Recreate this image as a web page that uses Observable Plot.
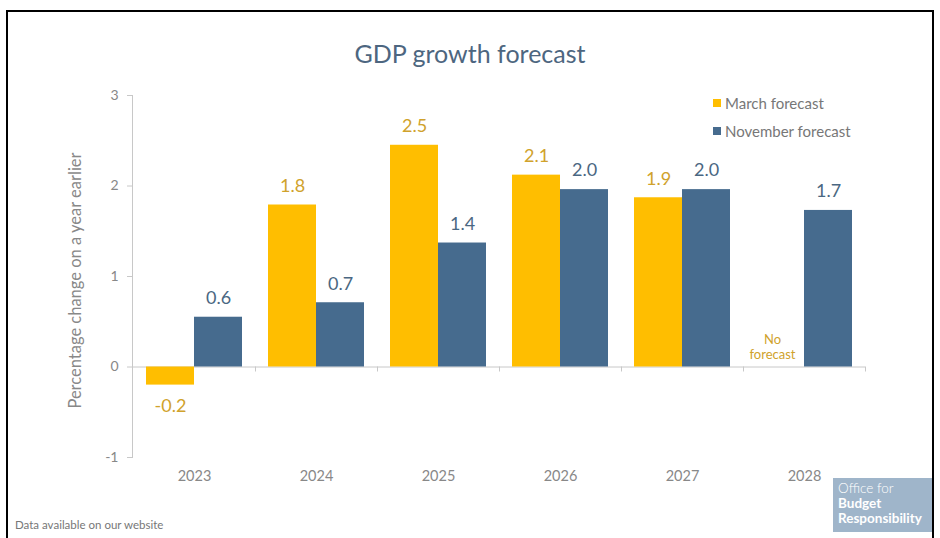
<!DOCTYPE html>
<html>
<head>
<meta charset="utf-8">
<script src="https://cdn.jsdelivr.net/npm/d3@7"></script>
<script src="https://cdn.jsdelivr.net/npm/@observablehq/plot@0.6"></script>
<style>
  html, body { margin: 0; padding: 0; background: #fff; }
  body { width: 940px; height: 538px; position: relative; overflow: hidden; font-family: Lato, "Open Sans", sans-serif; }
  #border { position: absolute; left: 6px; top: 10px; width: 924px; height: 540px; border: 2px solid #000; border-bottom: none; }
  #title { position: absolute; top: 38px; left: 0; width: 940px; text-align: center; font-size: 25px; color: #4d6680; }
  #chart { position: absolute; left: 0; top: 80px; }
  .leg { position: absolute; left: 713px; font-size: 15px; color: #777; display: flex; align-items: center; }
  .leg span.sw { width: 8px; height: 8px; display: inline-block; margin-right: 4px; }
  #footer { position: absolute; left: 15px; top: 518px; font-size: 11.5px; color: #777; }
  #logo { position: absolute; left: 833px; top: 478px; width: 99px; height: 54px; background: #9fb5ca; color: #fff; box-sizing: border-box; padding: 3px 0 0 5px; font-size: 13.5px; line-height: 15px; }
  #logo b { font-weight: 700; }
</style>
</head>
<body>
<div id="border"></div>
<div id="title">GDP growth forecast</div>
<div id="chart"></div>
<div class="leg" style="top:94px"><span class="sw" style="background:#ffbe00"></span>March forecast</div>
<div class="leg" style="top:122px"><span class="sw" style="background:#466b8e"></span>November forecast</div>
<div id="footer">Data available on our website</div>
<div id="logo"><span style="font-weight:300">Office for</span><br><b>Budget</b><br><b>Responsibility</b></div>
<script>
const years = ["2023", "2024", "2025", "2026", "2027", "2028"];
const march = [-0.2, 1.79, 2.45, 2.12, 1.87, null];
const november = [0.55, 0.71, 1.37, 1.96, 1.96, 1.73];
const marchLabels = ["-0.2", "1.8", "2.5", "2.1", "1.9", null];
const novemberLabels = ["0.6", "0.7", "1.4", "2.0", "2.0", "1.7"];
const yTicks = [-1, 0, 1, 2, 3];
const yLabel = "Percentage change on a year earlier";
const noForecast = [{year: "2028", text: "No\nforecast"}];

const marchRows = years.map((year, i) => ({year, value: march[i], label: marchLabels[i]})).filter(d => d.value != null);
const novRows = years.map((year, i) => ({year, value: november[i], label: novemberLabels[i]}));

const YELLOW = "#ffbe00", BLUE = "#466b8e";
const YTEXT = "#d0a22c", BTEXT = "#4a6782";

const chart = Plot.plot({
  width: 940,
  height: 420,
  marginTop: 15,
  marginBottom: 43,
  marginLeft: 133,
  marginRight: 75,
  style: {fontFamily: "Lato, 'Open Sans', sans-serif", background: "transparent"},
  x: {domain: years, padding: 0},
  y: {domain: [-1, 3]},
  marks: [
    Plot.frame({anchor: "left", stroke: "#c8c8c8", dx: -1}),
    Plot.ruleY([0], {stroke: "#c8c8c8", insetLeft: -1}),
    Plot.ruleX(years, {x: d => d, y1: 0, y2: 0, dx: 61, insetBottom: -5, stroke: "#c8c8c8"}),
    Plot.axisY({ticks: yTicks, tickSize: 5, tickPadding: 9, tickFormat: d => String(d), label: null, fontSize: 14, stroke: "#c8c8c8", fill: "#888", dx: -1}),
    Plot.axisX({tickSize: 0, tickPadding: 13, label: null, fontSize: 14.5, fill: "#888"}),
    Plot.barY(marchRows, {x: "year", y: "value", fill: YELLOW, insetLeft: 13, insetRight: 61}),
    Plot.barY(novRows, {x: "year", y: "value", fill: BLUE, insetLeft: 61, insetRight: 13}),
    Plot.text(marchRows.filter(d => d.value >= 0), {x: "year", y: "value", text: "label", dx: -24, dy: -19, fill: YTEXT, fontSize: 18}),
    Plot.text(marchRows.filter(d => d.value < 0), {x: "year", y: "value", text: "label", dx: -24, dy: 21, fill: YTEXT, fontSize: 18}),
    Plot.text(novRows, {x: "year", y: "value", text: "label", dx: 24, dy: -19, fill: BTEXT, fontSize: 18}),
    Plot.text(noForecast, {x: "year", y: 0, text: "text", dx: -32, dy: -20, fill: YTEXT, fontSize: 13, lineHeight: 1.15}),
    Plot.text([yLabel], {frameAnchor: "left", textAnchor: "middle", rotate: -90, dx: -58, dy: 4, fill: "#888", fontSize: 16.5})
  ]
});
document.getElementById("chart").appendChild(chart);
</script>
</body>
</html>
